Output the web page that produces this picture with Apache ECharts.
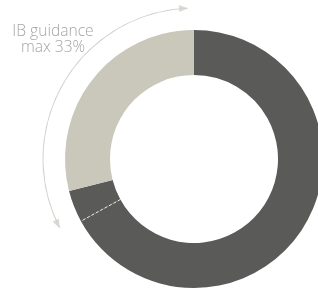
<!DOCTYPE html>
<html>
<head>
<meta charset="utf-8">
<script src="https://cdn.jsdelivr.net/npm/echarts@6/dist/echarts.min.js"></script>
<style>
  html, body { margin: 0; padding: 0; background: #fff; }
  #chart { width: 318px; height: 291px; }
</style>
</head>
<body>
<div id="chart"></div>
<script type="text/javascript">
// donut slices, clockwise from 12 o'clock (percent)
var sliceNames = ['Other', 'IB part', 'IB'];
var sliceValues = [67, 4, 29];
var sliceColors = ['#5a5b59', '#5a5b59', '#cac8bb'];
// guidance arrow, start / end position on the circle (percent)
var arrowFrom = [67.5];
var arrowTo = [99.3];
var labelText = ['IB guidance', 'max 33%'];

var cx = 194, cy = 159;
var rIn = 84, rOut = 129, rArrow = 151;

// the dashed divider sits where the first slice ends
var dividerAt = sliceValues[0];

var myChart = echarts.init(document.getElementById('chart'));
var option = {
  animation: false,
  title: {
    text: labelText.join('\n'),
    left: 48,
    top: 19,
    textAlign: 'center',
    textStyle: {
      fontFamily: 'Open Sans',
      fontSize: 15.6,
      fontWeight: 300,
      lineHeight: 16,
      color: '#a5a5a5'
    }
  },
  polar: { center: [cx, cy], radius: [0, rArrow] },
  angleAxis: {
    type: 'value', min: 0, max: 100, startAngle: 90, clockwise: true,
    show: false
  },
  radiusAxis: { type: 'value', min: 0, max: rArrow, show: false },
  series: [
    {
      type: 'pie',
      center: [cx, cy],
      radius: [rIn, rOut],
      startAngle: 90,
      clockwise: true,
      silent: true,
      label: { show: false },
      labelLine: { show: false },
      data: sliceValues.map(function (v, i) {
        return { name: sliceNames[i], value: v, itemStyle: { color: sliceColors[i] } };
      })
    },
    {
      // thin ring for the arrow shaft
      type: 'pie',
      center: [cx, cy],
      radius: [rArrow - 0.5, rArrow + 0.5],
      startAngle: 90,
      clockwise: true,
      silent: true,
      label: { show: false },
      labelLine: { show: false },
      data: [
        { value: arrowFrom[0], itemStyle: { color: 'rgba(0,0,0,0)' } },
        { value: arrowTo[0] - arrowFrom[0], itemStyle: { color: '#d2d2cc' } },
        { value: 100 - arrowTo[0], itemStyle: { color: 'rgba(0,0,0,0)' } }
      ]
    },
    {
      // dashed divider inside the dark part
      type: 'line',
      coordinateSystem: 'polar',
      silent: true,
      symbol: 'none',
      lineStyle: { color: '#e8e8e6', width: 1, type: [3, 2] },
      data: [[rIn, dividerAt], [rOut, dividerAt]],
      z: 5
    },
    {
      // arrow heads
      type: 'scatter',
      coordinateSystem: 'polar',
      silent: true,
      symbol: 'triangle',
      symbolSize: [7, 9],
      itemStyle: { color: '#d2d2cc' },
      data: [
        { value: [rArrow, arrowTo[0] - 0.4], symbolRotate: -87 },
        { value: [rArrow, arrowFrom[0] + 0.4], symbolRotate: -153 }
      ]
    }
  ]
};
myChart.setOption(option);
</script>
</body>
</html>
